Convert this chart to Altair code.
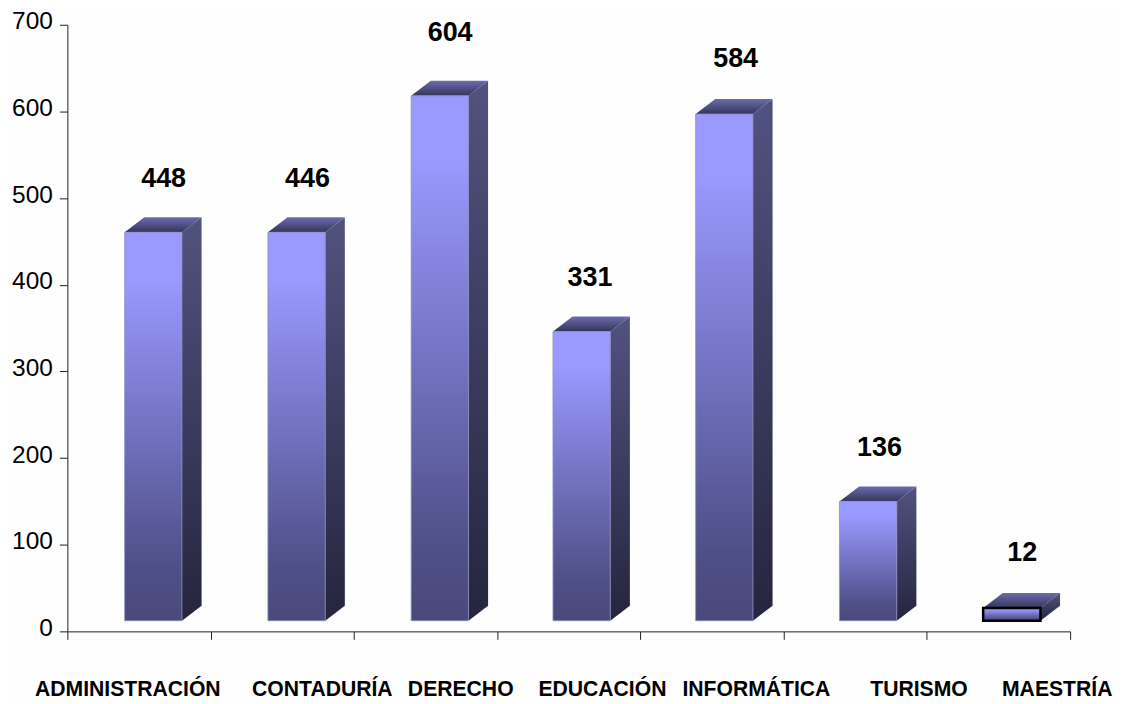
import altair as alt
import pandas as pd

categorias = ["ADMINISTRACIÓN", "CONTADURÍA", "DERECHO", "EDUCACIÓN", "INFORMÁTICA", "TURISMO", "MAESTRÍA"]
etiquetas = [448, 446, 604, 331, 584, 136, 12]
# drawn height of each front face, read on the value axis
alturas = [460.5, 460.5, 618, 346, 597, 150, 27]
# left edge of each bar, read on the category axis
izquierda = [0.4, 1.4, 2.4, 3.39, 4.386, 5.39, 6.393]
# where each value label sits, read on both axes
etiqueta_x = [0.672, 1.676, 2.672, 3.648, 4.665, 5.669, 6.666]
etiqueta_y = [522, 522, 690, 408, 661, 212, 90]
# horizontal centre of each category label, read on the category axis
centro_etiqueta = [0.422, 1.78, 2.746, 3.735, 4.81, 5.945, 6.91]

FONT = "Liberation Sans"
BASE, DY, DX = 12.3, 17.3, 0.137
BAR_W = 0.4

front, side, top, text = [], [], [], []
for c, e, h, x0, lx, ly, cx in zip(categorias, etiquetas, alturas, izquierda, etiqueta_x, etiqueta_y, centro_etiqueta):
    x1 = x0 + BAR_W
    front.append(dict(cat=c, x=x0, x2=x1, y=BASE, y2=h))
    side += [dict(cat=c, x=x1, y=BASE, y2=h), dict(cat=c, x=x1 + DX, y=BASE + DY, y2=h + DY)]
    top += [
        dict(cat=c, x=x0, y=h, y2=h),
        dict(cat=c, x=x0 + DX, y=h, y2=h + DY),
        dict(cat=c, x=x1, y=h, y2=h + DY),
        dict(cat=c, x=x1 + DX, y=h + DY, y2=h + DY),
    ]
    text.append(dict(cat=c, label=e, x=lx, y=ly, cx=cx))

def grad(*stops):
    return alt.LinearGradient(
        gradient="linear", x1=0, x2=0, y1=0, y2=1,
        stops=[alt.GradientStop(offset=o, color=col) for o, col in stops],
    )

x_scale = alt.Scale(domain=[0, 7], nice=False, zero=False)
y_scale = alt.Scale(domain=[0, 700], nice=False)
x_enc = alt.X("x:Q", scale=x_scale, title=None,
              axis=alt.Axis(values=list(range(8)), labels=False, tickSize=8, grid=False,
                            domainColor="#222222", tickColor="#222222", domainWidth=1))
y_enc = alt.Y("y:Q", scale=y_scale, title=None,
              axis=alt.Axis(values=list(range(0, 701, 100)), tickSize=8, labelPadding=7, grid=False,
                            labelOffset=-3,
                            domainColor="#222222", tickColor="#222222",
                            labelFont=FONT, labelFontSize=24.5, labelColor="#000000"))

side_l = alt.Chart(pd.DataFrame(side)).mark_area(
    orient="vertical", line=False,
    color=grad((0, "#52527f"), (1, "#25253f")),
).encode(x=x_enc, y=y_enc, y2="y2:Q", detail="cat:N")

top_l = alt.Chart(pd.DataFrame(top)).mark_area(
    orient="vertical", line=False,
    color=grad((0, "#6c6cae"), (1, "#34345a")),
).encode(x="x:Q", y="y:Q", y2="y2:Q", detail="cat:N")

front_l = alt.Chart(pd.DataFrame(front)).mark_bar(
    color=grad((0, "#9999ff"), (0.12, "#9999ff"), (0.85, "#50508a"), (1, "#49497a")),
).encode(
    x="x:Q", x2="x2:Q", y="y:Q", y2="y2:Q",
    stroke=alt.when(alt.datum.cat == "MAESTRÍA").then(alt.value("#000000")).otherwise(alt.value("#8c8cc4")),
    strokeWidth=alt.when(alt.datum.cat == "MAESTRÍA").then(alt.value(2.5)).otherwise(alt.value(0.8)),
)

val_l = alt.Chart(pd.DataFrame(text)).mark_text(
    font=FONT, fontSize=27, fontWeight="bold", color="#000000", baseline="middle",
).encode(x="x:Q", y="y:Q", text="label:N")

cat_l = alt.Chart(pd.DataFrame(text)).mark_text(
    font=FONT, fontSize=21.2, fontWeight="bold", color="#000000", baseline="middle",
).encode(x="cx:Q", y=alt.value(667), text="cat:N")

chart = (
    alt.layer(side_l, top_l, front_l, val_l, cat_l)
    .properties(
        width=1005, height=608,
        padding={"left": 59.5, "top": 16, "right": 44, "bottom": 68},
        autosize=alt.AutoSizeParams(type="none"),
        background="#fefefe",
    )
    .configure_view(stroke=None)
)
chart.save("out.html", embed_options={"renderer": "svg", "actions": False})
